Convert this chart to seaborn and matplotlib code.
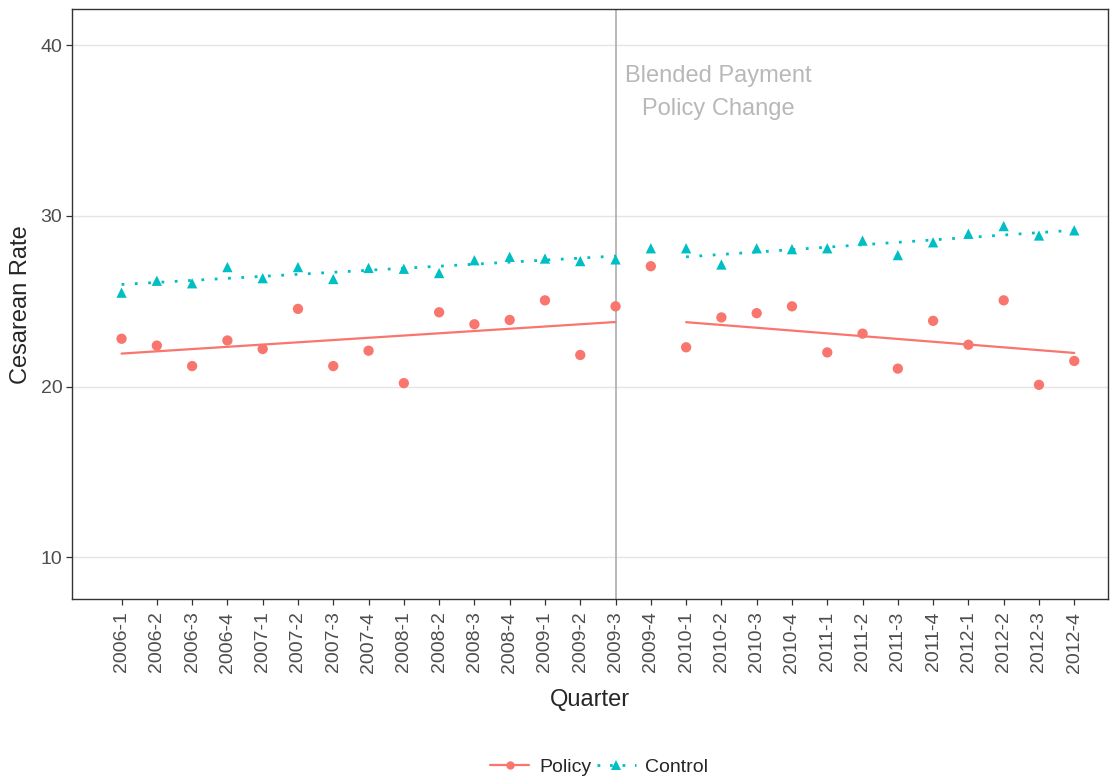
import numpy as np
import pandas as pd
import seaborn as sns
from matplotlib import pyplot as plt
from matplotlib.lines import Line2D

# quarters and rates
quarters = ['2006-1', '2006-2', '2006-3', '2006-4', '2007-1', '2007-2', '2007-3', '2007-4',
            '2008-1', '2008-2', '2008-3', '2008-4', '2009-1', '2009-2', '2009-3', '2009-4',
            '2010-1', '2010-2', '2010-3', '2010-4', '2011-1', '2011-2', '2011-3', '2011-4',
            '2012-1', '2012-2', '2012-3', '2012-4']
policy = [22.8, 22.4, 21.2, 22.7, 22.2, 24.55, 21.2, 22.1,
          20.2, 24.35, 23.65, 23.9, 25.05, 21.85, 24.7, 27.05,
          22.3, 24.05, 24.3, 24.7, 22.0, 23.1, 21.05, 23.85,
          22.45, 25.05, 20.1, 21.5]
control = [25.5, 26.2, 26.05, 27.0, 26.35, 27.0, 26.3, 26.95,
           26.9, 26.65, 27.4, 27.6, 27.5, 27.35, 27.45, 28.1,
           28.1, 27.15, 28.1, 28.05, 28.1, 28.55, 27.7, 28.45,
           28.95, 29.4, 28.85, 29.15]
policy_label = 'Policy'
control_label = 'Control'
change_quarter = '2009-3'
pre_period = ('2006-1', '2009-3')
post_period = ('2010-1', '2012-4')

red = '#F8766D'
teal = '#00BFC4'

sns.set_theme(style='white')
plt.rcParams['font.family'] = ['Liberation Sans', 'DejaVu Sans']

n = len(quarters)
df = pd.DataFrame({'q': quarters, 'x': np.arange(n), 'Policy': policy, 'Control': control})
long = df.melt(id_vars=['q', 'x'], value_vars=['Policy', 'Control'],
               var_name='group', value_name='rate')

fig, ax = plt.subplots(figsize=(11.1, 7.77), dpi=100)
fig.subplots_adjust(left=0.065, right=0.998, top=0.988, bottom=0.229)

for y in [10, 20, 30, 40]:
    ax.axhline(y, color='#E5E5E5', lw=1.0, zorder=0)

sns.scatterplot(data=long, x='x', y='rate', hue='group', style='group',
                palette={'Policy': red, 'Control': teal},
                markers={'Policy': 'o', 'Control': '^'},
                s=55, linewidth=0, legend=False, ax=ax, zorder=3)

# separate linear fits before and after the change
for start, end in [pre_period, post_period]:
    i0, i1 = quarters.index(start), quarters.index(end)
    seg = df.iloc[i0:i1 + 1]
    sns.regplot(data=seg, x='x', y='Policy', scatter=False, ci=None, truncate=True,
                color=red, line_kws={'lw': 1.6, 'ls': '-'}, ax=ax)
    sns.regplot(data=seg, x='x', y='Control', scatter=False, ci=None, truncate=True,
                color=teal, line_kws={'lw': 2.0, 'ls': (0, (1, 3.8))}, ax=ax)

xc = quarters.index(change_quarter)
ax.axvline(xc, color='#B3B3B3', lw=1.3, zorder=1)
ax.text(xc + 2.9, 37.2, 'Blended Payment\nPolicy Change', color='#B8B8B8',
        fontsize=17, ha='center', va='center', linespacing=1.65)

ax.set_xlim(-1.4, n - 0.05)
ax.set_ylim(7.55, 42.1)
ax.set_yticks([10, 20, 30, 40])
ax.set_xticks(np.arange(n))
ax.set_xticklabels(quarters, rotation=90, fontsize=14, color='#4D4D4D')
ax.tick_params(axis='y', labelsize=14, labelcolor='#4D4D4D', pad=3)
ax.tick_params(axis='x', pad=5)
ax.tick_params(axis='both', which='major', length=4, width=0.9, color='#333333',
               bottom=True, left=True, direction='out')
ax.set_xlabel('Quarter', fontsize=17, labelpad=12)
ax.set_ylabel('Cesarean Rate', fontsize=17, labelpad=6)
for sp in ax.spines.values():
    sp.set_color('#333333')
    sp.set_linewidth(1.0)

handles = [Line2D([], [], color=red, lw=1.6, marker='o', markersize=6, markeredgewidth=0),
           Line2D([], [], color=teal, lw=2.0, ls=(0, (1, 3.5)), marker='^', markersize=7,
                  markeredgewidth=0)]
fig.legend(handles, [policy_label, control_label], loc='lower center',
           bbox_to_anchor=(0.54, -0.021), ncol=2, frameon=False, fontsize=14,
           handlelength=2.0, columnspacing=0.3, handletextpad=0.5)

fig.savefig('out.png', dpi=100)
